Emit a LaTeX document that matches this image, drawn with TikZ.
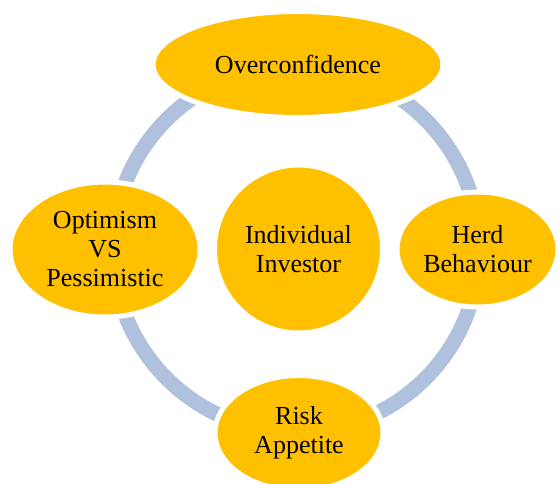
\documentclass[tikz,border=0pt]{standalone}
\usepackage{fontspec}
\setmainfont{Liberation Serif}
\usetikzlibrary{shapes.geometric}
\definecolor{gold}{RGB}{255,192,0}
\definecolor{ringblue}{RGB}{176,193,221}
\begin{document}
\begin{tikzpicture}[x=1pt,y=-1pt,
  bubble/.style={ellipse, fill=gold, draw=white, line width=5pt, inner sep=0pt,
    align=center, font=\fontsize{26}{29}\selectfont},
  ring/.style={draw=ringblue, line width=15pt}]
\useasboundingbox (0,0) rectangle (559,484);
\coordinate (ringc) at (296,249);
\draw[ring] (ringc) circle[radius=183];
\node[bubble, minimum width=290, minimum height=106] (over) at (298,64.5) {Overconfidence};
\node[bubble, minimum width=161, minimum height=115] (herd) at (477.5,249.5) {Herd\\Behaviour};
\node[bubble, minimum width=168, minimum height=115] (risk) at (299,433) {Risk\\Appetite};
\node[bubble, minimum width=190, minimum height=135] (opt) at (105,249.5) {Optimism\\VS\\Pessimistic};
\node[bubble, circle, minimum size=168] (ind) at (298.5,249) {Individual\\Investor};
\end{tikzpicture}
\end{document}
